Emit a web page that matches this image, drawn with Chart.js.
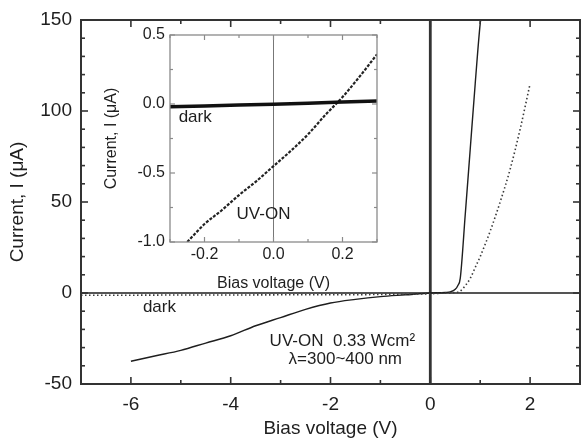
<!DOCTYPE html>
<html>
<head>
<meta charset="utf-8">
<script src="https://cdn.jsdelivr.net/npm/chart.js@4.4.0/dist/chart.umd.min.js"></script>
<style>
  html, body { margin: 0; padding: 0; background: #fff; }
  #wrap { position: relative; width: 581px; height: 440px; }
  #main { position: absolute; left: 0; top: 0; }
  #inset { position: absolute; left: 100px; top: 25px; }
</style>
</head>
<body>
<div id="wrap">
  <canvas id="main" width="581" height="440"></canvas>
  <canvas id="inset" width="282" height="268"></canvas>
</div>
<script>
// ----- data (main panel) -----
const darkV = [-7, -6, -5, -4, -3, -2, -1, 0, 0.3, 0.5, 0.6, 0.7, 0.8, 0.9, 1.0, 1.2, 1.4, 1.6, 1.8, 2.0];
const darkI = [-1.2, -1.2, -1.1, -1.1, -1, -1, -0.8, -0.4, 0, 0.3, 1, 4, 8, 14, 20, 34, 50, 68, 90, 115];
const uvV = [-6, -5.5, -5, -4.5, -4, -3.5, -3, -2.5, -2, -1.5, -1, -0.5, 0, 0.3, 0.4, 0.5, 0.55, 0.6, 0.7, 0.8, 0.9, 1.0, 1.01];
const uvI = [-37.5, -34.5, -31.5, -27.5, -23.5, -18, -13.5, -9, -5.5, -3.5, -2, -1, 0, 0.3, 0.6, 2, 4, 8, 43, 79, 115, 148, 150];

// ----- data (inset) -----
const darkInV = [-0.3, -0.2, -0.1, 0, 0.1, 0.2, 0.3];
const darkInI = [-0.02, -0.014, -0.008, -0.002, 0.006, 0.014, 0.022];
const uvInV = [-0.25, -0.2, -0.15, -0.1, -0.05, 0, 0.05, 0.1, 0.15, 0.2, 0.25, 0.3];
const uvInI = [-1.0, -0.87, -0.77, -0.66, -0.56, -0.45, -0.34, -0.22, -0.08, 0.05, 0.2, 0.36];

// tick label sets
const mainXLabels = [-6, -4, -2, 0, 2];
const mainYLabels = [-50, 0, 50, 100, 150];
const insetXLabels = ['-0.2', '0.0', '0.2'];
const insetYLabels = ['-1.0', '-0.5', '0.0', '0.5'];

const FONT = '"Liberation Sans", Arial, Helvetica, sans-serif';
const INK = '#1e1e1e';
const pts = (xs, ys) => xs.map((v, i) => ({ x: v, y: ys[i] }));

// frame, inward ticks, zero lines and text notes
function framePlugin(o) {
  const seg = (ctx, x1, y1, x2, y2) => { ctx.beginPath(); ctx.moveTo(x1, y1); ctx.lineTo(x2, y2); ctx.stroke(); };
  return {
    id: 'frame',
    beforeDatasetsDraw(chart) {
      const { ctx, chartArea: a, scales: { x, y } } = chart;
      ctx.save();
      if (o.hZero) {
        ctx.strokeStyle = o.hZero.color; ctx.lineWidth = o.hZero.width;
        const py = y.getPixelForValue(0);
        seg(ctx, a.left, py, a.right, py);
      }
      if (o.vZero) {
        ctx.strokeStyle = o.vZero.color; ctx.lineWidth = o.vZero.width;
        const px = x.getPixelForValue(0);
        seg(ctx, px, a.top, px, a.bottom);
      }
      ctx.restore();
    },
    afterDatasetsDraw(chart) {
      const { ctx, chartArea: a, scales: { x, y } } = chart;
      ctx.save();
      ctx.strokeStyle = o.color; ctx.lineWidth = o.width;
      ctx.strokeRect(a.left, a.top, a.right - a.left, a.bottom - a.top);
      ctx.lineWidth = o.tickWidth;
      x.ticks.forEach(t => {
        const px = x.getPixelForValue(t.value);
        const len = o.xMajor(t.value) ? o.major : o.minor;
        seg(ctx, px, a.bottom, px, a.bottom - len);
        seg(ctx, px, a.top, px, a.top + len);
      });
      y.ticks.forEach(t => {
        const py = y.getPixelForValue(t.value);
        const len = o.yMajor(t.value) ? o.major : o.minor;
        seg(ctx, a.left, py, a.left + len, py);
        seg(ctx, a.right, py, a.right - len, py);
      });
      ctx.fillStyle = INK;
      ctx.font = o.noteFont;
      ctx.textAlign = 'left';
      ctx.textBaseline = 'middle';
      o.notes.forEach(n => ctx.fillText(n.text, x.getPixelForValue(n.v), y.getPixelForValue(n.i)));
      ctx.restore();
    }
  };
}

// fixed axis boxes so the plot area lands where the reference has it
const fixX = h => s => { s.height = h; s.paddingLeft = 0; s.paddingRight = 0; };
const fixY = w => s => { s.width = w; s.paddingTop = 0; s.paddingBottom = 0; };

// ----- main chart -----
new Chart(document.getElementById('main'), {
  type: 'scatter',
  data: {
    datasets: [
      { label: 'dark', data: pts(darkV, darkI), showLine: true, borderColor: '#3a3a3a', borderWidth: 1.6,
        borderDash: [1.5, 2.5], pointRadius: 0, cubicInterpolationMode: 'monotone' },
      { label: 'UV-ON', data: pts(uvV, uvI), showLine: true, borderColor: INK, borderWidth: 1.4,
        pointRadius: 0, cubicInterpolationMode: 'monotone' }
    ]
  },
  options: {
    responsive: false,
    animation: false,
    layout: { padding: { top: 20, right: 1, left: 0, bottom: 0 } },
    plugins: { legend: { display: false }, tooltip: { enabled: false } },
    scales: {
      x: {
        type: 'linear', min: -7, max: 3,
        grid: { display: false, drawTicks: false }, border: { display: false },
        ticks: { stepSize: 1, autoSkip: false, maxRotation: 0, padding: 9, color: INK,
          font: { family: FONT, size: 19 },
          callback: v => mainXLabels.includes(v) ? String(v) : '' },
        title: { display: true, text: 'Bias voltage (V)', color: INK, font: { family: FONT, size: 19 }, padding: { top: 2, bottom: 0 } },
        afterFit: fixX(56)
      },
      y: {
        type: 'linear', min: -50, max: 150,
        grid: { display: false, drawTicks: false }, border: { display: false },
        ticks: { stepSize: 10, autoSkip: false, padding: 9, color: INK,
          font: { family: FONT, size: 19 },
          callback: v => mainYLabels.includes(v) ? String(v) : '' },
        title: { display: true, text: 'Current, I (\u03bcA)', color: INK, font: { family: FONT, size: 19 }, padding: { top: 6, bottom: 0 } },
        afterFit: fixY(81)
      }
    }
  },
  plugins: [framePlugin({
    color: '#333', width: 2, tickWidth: 1.6, major: 7, minor: 4,
    xMajor: v => v % 2 === 0, yMajor: v => v % 50 === 0,
    hZero: { color: '#555', width: 2 }, vZero: { color: '#333', width: 2.8 },
    noteFont: '17px ' + FONT,
    notes: [
      { text: 'dark', v: -5.76, i: -7.7 },
      { text: 'UV-ON  0.33 Wcm\u00b2', v: -3.22, i: -26.4 },
      { text: '\u03bb=300~400 nm', v: -2.84, i: -36.3 }
    ]
  })]
});

// ----- inset chart -----
const tenth = v => Math.round(v * 10);
new Chart(document.getElementById('inset'), {
  type: 'scatter',
  data: {
    datasets: [
      { label: 'dark', data: pts(darkInV, darkInI), showLine: true, borderColor: '#111', borderWidth: 3.5, pointRadius: 0 },
      { label: 'UV-ON', data: pts(uvInV, uvInI), showLine: true, borderColor: '#222', borderWidth: 2.2,
        borderDash: [3, 1.5], pointRadius: 0, cubicInterpolationMode: 'monotone' }
    ]
  },
  options: {
    responsive: false,
    animation: false,
    layout: { padding: { top: 10, right: 5, left: 0, bottom: 0 } },
    plugins: { legend: { display: false }, tooltip: { enabled: false } },
    scales: {
      x: {
        type: 'linear', min: -0.3, max: 0.3,
        grid: { display: false, drawTicks: false }, border: { display: false },
        ticks: { stepSize: 0.1, autoSkip: false, maxRotation: 0, padding: 3, color: INK,
          font: { family: FONT, size: 16 },
          callback: v => { const s = (tenth(v) / 10).toFixed(1); return insetXLabels.includes(s) ? s : ''; } },
        title: { display: true, text: 'Bias voltage (V)', color: INK, font: { family: FONT, size: 16 }, padding: { top: 2, bottom: 0 } },
        afterFit: fixX(51)
      },
      y: {
        type: 'linear', min: -1, max: 0.5,
        grid: { display: false, drawTicks: false }, border: { display: false },
        ticks: { stepSize: 0.25, autoSkip: false, padding: 5, color: INK,
          font: { family: FONT, size: 16 },
          callback: v => { const s = v.toFixed(2); const t = v.toFixed(1); return insetYLabels.includes(t) && s.endsWith('0') ? t : ''; } },
        title: { display: true, text: 'Current, I (\u03bcA)', color: INK, font: { family: FONT, size: 16 }, padding: { top: 2, bottom: 0 } },
        afterFit: fixY(70)
      }
    }
  },
  plugins: [framePlugin({
    color: '#8a8a8a', width: 1.3, tickWidth: 1.2, major: 5, minor: 3,
    xMajor: v => tenth(v) % 2 === 0, yMajor: v => Math.round(v * 4) % 2 === 0,
    vZero: { color: '#777', width: 1 },
    noteFont: '17px ' + FONT,
    notes: [
      { text: 'dark', v: -0.275, i: -0.10 },
      { text: 'UV-ON', v: -0.107, i: -0.80 }
    ]
  })]
});
</script>
</body>
</html>
